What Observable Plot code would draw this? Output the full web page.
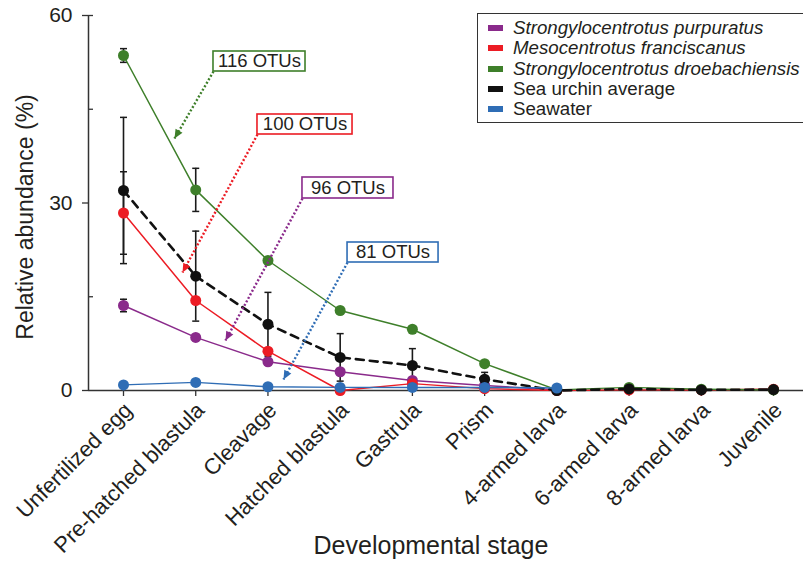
<!DOCTYPE html>
<html><head><meta charset="utf-8">
<script src="https://cdn.jsdelivr.net/npm/d3@7"></script>
<script src="https://cdn.jsdelivr.net/npm/@observablehq/plot@0.6"></script>
<style>
body{margin:0;background:#fff;}
#wrap{position:relative;width:803px;height:572px;overflow:hidden;font-family:"Liberation Sans",Arial,Helvetica,sans-serif;}
#legend{position:absolute;left:477px;top:13px;width:340px;height:110px;border:1.5px solid #333;box-sizing:border-box;background:#fff;}
.row{position:absolute;left:0;height:20px;display:flex;align-items:center;font-size:18.7px;color:#231f20;white-space:nowrap;}
.sw{width:15px;height:6px;margin-left:10px;margin-right:10px;flex:none;}
</style></head>
<body><div id="wrap"></div>
<script>
// ---- data ----
const stages = ["Unfertilized egg","Pre-hatched blastula","Cleavage","Hatched blastula","Gastrula","Prism","4-armed larva","6-armed larva","8-armed larva","Juvenile"];
const purpuratus     = [13.6, 8.5, 4.6, 3.0, 1.6, 0.8, 0.1, null, null, null];
const franciscanus   = [28.4, 14.4, 6.3, 0.0, 1.1, 0.3, 0.0, 0.1, 0.1, 0.2];
const droebachiensis = [53.6, 32.1, 20.8, 12.8, 9.8, 4.3, 0.1, 0.5, 0.2, 0.1];
const average        = [32.0, 18.3, 10.6, 5.3, 4.0, 1.8, 0.0, 0.25, 0.1, 0.15];
const seawater       = [0.9, 1.3, 0.6, 0.5, 0.5, 0.5, 0.4, null, null, null];
const purpuratusErr     = [1.0, 0, 0, 0, 0, 0, 0, 0, 0, 0];
const franciscanusErr   = [6.6, 0, 0, 0, 0, 0, 0, 0, 0, 0];
const droebachiensisErr = [1.1, 3.45, 0, 0, 0, 0, 0, 0, 0, 0];
const averageErr        = [11.7, 7.2, 5.1, 3.8, 2.7, 1.1, 0, 0, 0, 0];
const seriesNames = ["Strongylocentrotus purpuratus","Mesocentrotus franciscanus","Strongylocentrotus droebachiensis","Sea urchin average","Seawater"];
const seriesItalic = [true, true, true, false, false];
const yTicks = [0, 30, 60];
const yMinorTicks = [15, 45, 60];
// annotations (data units)
const annLabels = ["116 OTUs","100 OTUs","96 OTUs","81 OTUs"];
const annBoxX1 = [1.246, 1.855, 2.478, 3.102];
const annBoxX2 = [2.520, 3.171, 3.738, 4.362];
const annBoxTop = [54.24, 44.16, 34.08, 23.68];
const annBoxBot = [51.04, 40.96, 30.72, 20.48];
const annTipX = [0.706, 0.817, 1.412, 2.215];
const annTipY = [40.32, 18.88, 8.0, 1.76];

// ---- styles ----
const C = {purple:"#8a2a8b", red:"#ec1c24", green:"#3e7f2a", black:"#111111", blue:"#2f6db5"};
const colors = [C.purple, C.red, C.green, C.black, C.blue];
const annColors = [C.green, C.red, C.purple, C.blue];
const W = 803, H = 572, mL = 88, mR = 0, mT = 15, mB = 182;
const xDomain = [-0.4846, 9.415];
const axisColor = "#333";
const txt = "#231f20";

const toPts = vals => vals.map((v, i) => ({i, v})).filter(d => d.v != null);
const allVals = [purpuratus, franciscanus, droebachiensis, average, seawater];
const allErr = [purpuratusErr, franciscanusErr, droebachiensisErr, averageErr, null];
const errData = [];
allErr.forEach((e, s) => { if (!e) return; e.forEach((err, i) => { if (err > 0) errData.push({i, lo: allVals[s][i] - err, hi: allVals[s][i] + err}); }); });
const capData = errData.flatMap(d => [{i: d.i, v: d.lo}, {i: d.i, v: d.hi}]);

const hline = {draw(ctx, size){ const r = Math.sqrt(size / Math.PI); ctx.moveTo(-r, 0); ctx.lineTo(r, 0); }};

const xs = d3.scaleLinear(xDomain, [mL, W - mR]);
const ys = d3.scaleLinear([0, 60], [H - mB, mT]);
const ann = annLabels.map((label, k) => ({label, color: annColors[k], x1: annBoxX1[k], x2: annBoxX2[k], top: annBoxTop[k], bot: annBoxBot[k], tx: annTipX[k], ty: annTipY[k]}));
function headSymbol(a){
  const dx = xs(a.tx) - xs(a.x1), dy = ys(a.ty) - ys(a.bot);
  const len = Math.hypot(dx, dy), ux = dx/len, uy = dy/len;
  const phi = Math.atan2(ux, -uy), c = Math.cos(phi), s = Math.sin(phi);
  const L = 9, w = 4;
  const pts = [[0,0],[-w,L],[w,L]].map(([x,y]) => [x*c - y*s, x*s + y*c]);
  return {draw(ctx){ ctx.moveTo(pts[0][0], pts[0][1]); ctx.lineTo(pts[1][0], pts[1][1]); ctx.lineTo(pts[2][0], pts[2][1]); ctx.closePath(); }};
}

const seriesMarks = [];
allVals.forEach((vals, s) => {
  const pts = toPts(vals);
  const isAvg = s === 3;
  seriesMarks.push(Plot.line(pts, {x: "i", y: "v", stroke: colors[s], strokeWidth: isAvg ? 2.6 : 1.5, strokeDasharray: isAvg ? "8,6" : null}));
  seriesMarks.push(Plot.dot(pts, {x: "i", y: "v", fill: colors[s], r: 5.5}));
});

const stageIdx = stages.map((_, i) => i);
const plot = Plot.plot({
  width: W, height: H,
  marginLeft: mL, marginRight: mR, marginTop: mT, marginBottom: mB,
  style: {fontFamily: '"Liberation Sans", Arial, Helvetica, sans-serif', color: txt, background: "white", overflow: "visible"},
  x: {type: "linear", domain: xDomain},
  y: {domain: [0, 60]},
  marks: [
    Plot.axisY({ticks: yTicks, tickSize: 6, tickPadding: 10, fontSize: 21, label: null, stroke: axisColor, strokeWidth: 1.3, fill: txt}),
    Plot.axisY({ticks: yMinorTicks, tickSize: 5, dx: 5, tickFormat: () => "", label: null, stroke: axisColor, strokeWidth: 1.3}),
    Plot.axisX({ticks: stageIdx, tickSize: 6, tickFormat: () => "", label: null, stroke: axisColor, strokeWidth: 1.3}),
    Plot.axisX({ticks: stageIdx, tickFormat: i => stages[i], tickRotate: -45, tickSize: 0, tickPadding: 10, dx: 5, dy: 6, fontSize: 22, label: null, fill: txt}),
    Plot.ruleY([0], {stroke: axisColor, strokeWidth: 1.5}),
    Plot.ruleX([xDomain[0]], {y1: 0, y2: 60, stroke: axisColor, strokeWidth: 1.5}),
    Plot.ruleX(errData, {x: "i", y1: "lo", y2: "hi", stroke: "#1a1a1a", strokeWidth: 1.6}),
    Plot.dot(capData, {x: "i", y: "v", symbol: hline, r: 3.5, stroke: "#1a1a1a", strokeWidth: 1.5, fill: "none"}),
    ...seriesMarks,
    Plot.link(ann, {x1: "x1", y1: "bot", x2: "tx", y2: "ty", stroke: "color", strokeWidth: 2.4, strokeDasharray: "2,2"}),
    ...ann.map(a => Plot.dot([a], {x: "tx", y: "ty", symbol: headSymbol(a), r: 5, fill: a.color, stroke: "none"})),
    Plot.rect(ann, {x1: "x1", x2: "x2", y1: "bot", y2: "top", fill: "white", stroke: "color", strokeWidth: 1.6}),
    Plot.text(ann, {x: d => (d.x1 + d.x2) / 2, y: d => (d.top + d.bot) / 2, text: "label", fontSize: 18.5, fill: txt}),
    Plot.text(["Relative abundance (%)"], {text: d => d, frameAnchor: "left", textAnchor: "middle", rotate: -90, dx: -63, dy: 14, fontSize: 23, fill: txt}),
    Plot.text(["Developmental stage"], {text: d => d, frameAnchor: "bottom", textAnchor: "middle", dx: -15, dy: 163, fontSize: 25, fill: txt})
  ]
});
const wrap = document.getElementById("wrap");
wrap.appendChild(plot);

// legend
const leg = document.createElement("div");
leg.id = "legend";
seriesNames.forEach((name, k) => {
  const row = document.createElement("div");
  row.className = "row";
  row.style.top = (4 + k * 20.3) + "px";
  const sw = document.createElement("div");
  sw.className = "sw"; sw.style.background = colors[k];
  const t = document.createElement("span");
  t.textContent = name;
  if (seriesItalic[k]) t.style.fontStyle = "italic";
  row.appendChild(sw); row.appendChild(t);
  leg.appendChild(row);
});
wrap.appendChild(leg);
</script>
</body></html>
